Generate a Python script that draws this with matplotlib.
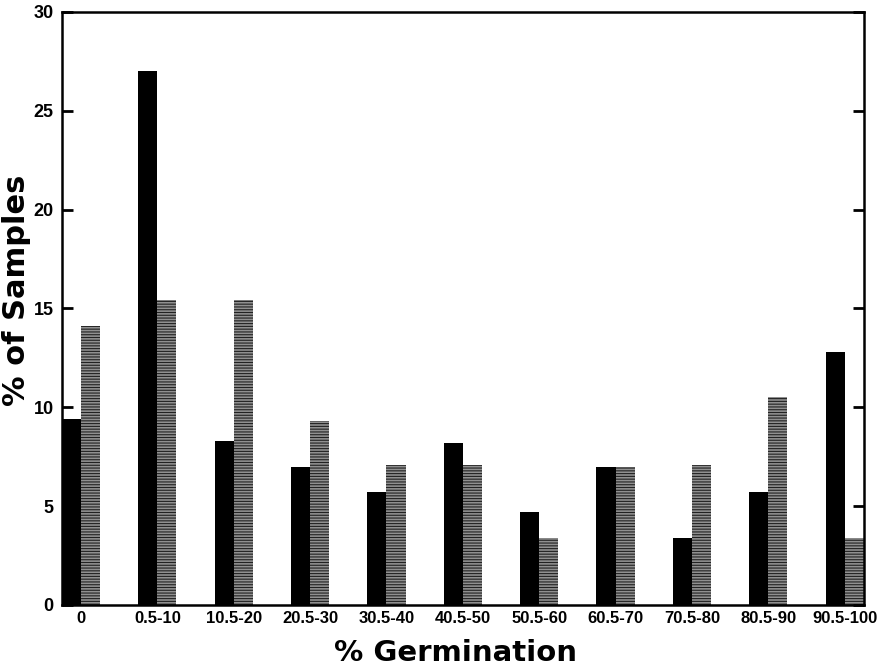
import matplotlib
matplotlib.use("Agg")
import matplotlib.pyplot as plt
import numpy as np

# germination classes
categories = ["0", "0.5-10", "10.5-20", "20.5-30", "30.5-40", "40.5-50",
              "50.5-60", "60.5-70", "70.5-80", "80.5-90", "90.5-100"]
# % of samples, black bars and shaded bars
black_vals = [9.4, 27.0, 8.3, 7.0, 5.7, 8.2, 4.7, 7.0, 3.4, 5.7, 12.8]
shaded_vals = [14.1, 15.4, 15.4, 9.3, 7.1, 7.1, 3.4, 7.0, 7.1, 10.5, 3.4]
yticks = [0, 5, 10, 15, 20, 25, 30]

plt.rcParams['hatch.linewidth'] = 0.8
plt.rcParams['hatch.color'] = '#222222'

fig = plt.figure(figsize=(8.85, 6.71), dpi=100)
ax = fig.add_axes([0.070, 0.0984, 0.906, 0.884])

x = np.arange(len(categories))
w = 0.25
ax.bar(x - w/2, black_vals, width=w, color='black', linewidth=0)
ax.bar(x + w/2, shaded_vals, width=w, color='#909090', hatch='------',
       edgecolor='#222222', linewidth=0)

ax.set_xlim(-0.25, len(categories) - 0.75)
ax.set_ylim(0, 30)

ax.set_yticks(yticks)
ax.set_yticklabels([str(v) for v in yticks], family=['Liberation Sans', 'DejaVu Sans'],
                   weight='bold', size=13)
ax.set_xticks(x)
ax.set_xticklabels(categories, family=['Liberation Sans', 'DejaVu Sans'],
                   weight='bold', size=12)
ax.tick_params(axis='x', length=0, pad=4)
ax.tick_params(axis='y', direction='in', length=8, width=2, pad=6,
               right=True)

for s in ax.spines.values():
    s.set_linewidth(1.8)

ax.set_xlabel("% Germination", family=['DejaVu Sans'], weight='bold', size=21)
ax.set_ylabel("% of Samples", family=['DejaVu Sans'], weight='bold', size=22)
ax.xaxis.set_label_coords(0.491, -0.058)
ax.yaxis.set_label_coords(-0.038, 0.53)

fig.savefig("out.png", dpi=100)
